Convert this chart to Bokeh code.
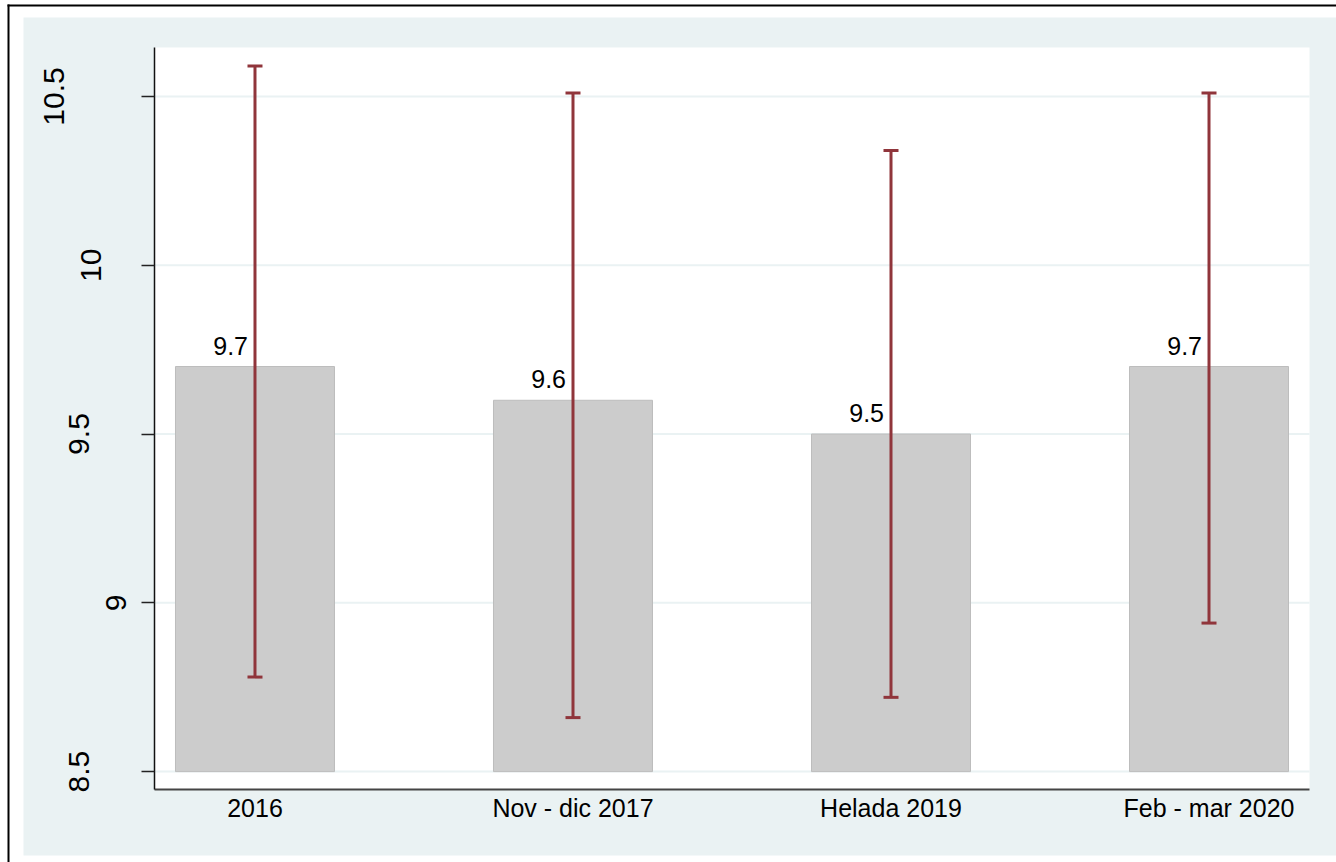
from bokeh.plotting import figure
from bokeh.models import (ColumnDataSource, Range1d, FixedTicker, Whisker,
                          TeeHead)
from bokeh.core.properties import value
from bokeh.embed import file_html
from bokeh.resources import INLINE
from math import pi

# Data
categories = ["2016", "Nov - dic 2017", "Helada 2019", "Feb - mar 2020"]
means = [9.7, 9.6, 9.5, 9.7]
ci_low = [8.78, 8.66, 8.72, 8.94]
ci_high = [10.59, 10.51, 10.34, 10.51]
y_ticks = [8.5, 9, 9.5, 10, 10.5]
y_tick_labels = ["8.5", "9", "9.5", "10", "10.5"]
bar_base = 8.5

# Page geometry (pixels). The data frame fills the whole canvas; the plot
# region, tinted page area and border are laid out inside it.
W, H = 1336, 862
PL, PR, PT, PB = 154, 1309, 47, 789      # plot region edges
X0, X1 = -0.316, 3.316                   # x data span of the plot region
Y0, Y1 = 8.447, 10.645                   # y data span of the plot region
KX = (PR - PL) / (X1 - X0)
KY = (PB - PT) / (Y1 - Y0)


def xd(px):
    return X0 + (px - PL) / KX


def yd(py):
    return Y0 + (PB - py) / KY


xs = list(range(len(categories)))
src = ColumnDataSource(dict(
    x=xs, top=means, lo=ci_low, hi=ci_high,
    lab=[f"{m:.1f}" for m in means],
))

BG = "#EAF2F3"
RED = "#90353B"
FONT = "Liberation Sans"

p = figure(width=W, height=H, output_backend="svg", toolbar_location=None,
           x_range=Range1d(xd(0), xd(W)), y_range=Range1d(yd(H), yd(0)),
           min_border=0, min_border_left=0, min_border_right=0,
           min_border_top=0, min_border_bottom=0,
           background_fill_color="white", border_fill_color="white")
p.outline_line_color = None

# Tinted page area, white plot region, black border lines
p.quad(left=xd(23), right=xd(W + 10), top=yd(17), bottom=yd(855),
       fill_color=BG, line_color=None)
p.quad(left=X0, right=X1, top=Y1, bottom=Y0,
       fill_color="white", line_color=None)
p.quad(left=xd(7), right=xd(W + 10), top=yd(4), bottom=yd(6),
       fill_color="black", line_color=None)
p.quad(left=xd(7), right=xd(9), top=yd(4), bottom=yd(H + 10),
       fill_color="black", line_color=None)

# Horizontal grid lines across the plot region
p.segment(x0=[X0] * len(y_ticks), x1=[X1] * len(y_ticks),
          y0=y_ticks, y1=y_ticks, line_color=BG, line_width=2)

# Bars
p.vbar(x="x", top="top", bottom=bar_base, width=0.5, source=src,
       fill_color="#CCCCCC", line_color="#BDBDBD", line_width=1)

# Confidence intervals
whisk = Whisker(base="x", lower="lo", upper="hi", source=src,
                line_color=RED, line_width=3, level="annotation",
                upper_head=TeeHead(size=15, line_color=RED, line_width=3),
                lower_head=TeeHead(size=15, line_color=RED, line_width=3))
p.add_layout(whisk)

# Value labels, set just left of each interval line, above the bar
p.text(x="x", y="top", text="lab", source=src, x_offset=-7, y_offset=-21,
       text_align="right", text_baseline="alphabetic",
       text_font=value(FONT), text_font_size="25px", text_color="black")

# Axes drawn along the plot region's edges
p.yaxis.fixed_location = X0
p.yaxis.bounds = (Y0, Y1)
p.yaxis.ticker = FixedTicker(ticks=y_ticks)
p.yaxis.major_label_overrides = {t: "" for t in y_ticks}
p.yaxis.major_tick_out = 13
p.yaxis.major_tick_in = 0
p.yaxis.major_tick_line_color = "#222222"
p.yaxis.major_tick_line_width = 1.5
p.yaxis.minor_tick_line_color = None
p.yaxis.axis_line_color = "#111111"
p.yaxis.axis_line_width = 1.5

p.xaxis.fixed_location = Y0
p.xaxis.bounds = (X0, X1)
p.xaxis.ticker = FixedTicker(ticks=xs)
p.xaxis.major_label_overrides = {i: c for i, c in zip(xs, categories)}
p.xaxis.major_label_text_font = FONT
p.xaxis.major_label_text_font_size = "25px"
p.xaxis.major_label_text_color = "black"
p.xaxis.major_label_standoff = 4
p.xaxis.major_tick_out = 0
p.xaxis.major_tick_in = 0
p.xaxis.major_tick_line_color = None
p.xaxis.minor_tick_line_color = None
p.xaxis.axis_line_color = "#444444"
p.xaxis.axis_line_width = 2

p.xgrid.grid_line_color = None
p.ygrid.grid_line_color = None


# Vertical y tick labels; each one is right-aligned by its unrotated width
def text_em(s):
    return sum(0.278 if ch == "." else 0.556 for ch in s)


label_dx = [140 - 44.6 * text_em(s) - PL for s in y_tick_labels]
p.text(x=[X0] * len(y_ticks), y=y_ticks, text=y_tick_labels,
       x_offset=label_dx, angle=pi / 2, text_align="center",
       text_baseline="middle", text_font=value(FONT),
       text_font_size="30px", text_color="black")

open("out.html", "w").write(file_html(p, INLINE))
